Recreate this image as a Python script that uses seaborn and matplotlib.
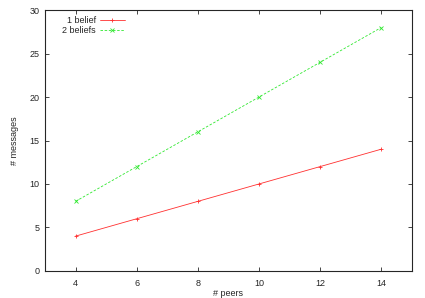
import pandas as pd
import matplotlib
matplotlib.use("Agg")
import matplotlib.pyplot as plt
import seaborn as sns

peers = [4, 6, 8, 10, 12, 14]
one_belief = [4, 6, 8, 10, 12, 14]
two_beliefs = [8, 12, 16, 20, 24, 28]
series_names = ["1 belief", "2 beliefs"]
colors = ["#ff3030", "#30e830"]

df = pd.DataFrame({
    "peers": peers * 2,
    "messages": one_belief + two_beliefs,
    "series": [series_names[0]] * len(peers) + [series_names[1]] * len(peers),
})

sns.set_style("ticks")
plt.rcParams["font.family"] = ["Liberation Sans", "DejaVu Sans"]

fig = plt.figure(figsize=(4.25, 2.98), dpi=100)
ax = fig.add_axes([0.106, 0.091, 0.863, 0.875])

sns.lineplot(
    data=df, x="peers", y="messages", hue="series", style="series",
    palette=dict(zip(series_names, colors)),
    dashes={"1 belief": (None, None), "2 beliefs": (3, 2)},
    markers={"1 belief": "+", "2 beliefs": "x"},
    markersize=3, markeredgewidth=0.6, linewidth=0.6, ax=ax,
)

# seaborn paints marker edges white; make them match the lines
for line in ax.lines:
    line.set_markeredgecolor(line.get_color())

ax.set_xlim(3, 15)
ax.set_ylim(0, 30)
ax.set_xticks(peers)
ax.set_yticks(range(0, 31, 5))
ax.tick_params(direction="in", length=3, width=0.6, labelsize=6.5, top=True, right=True)
ax.tick_params(axis="x", pad=6)
ax.tick_params(axis="y", pad=4)
for s in ax.spines.values():
    s.set_linewidth(0.8)
ax.set_xlabel("# peers", fontsize=6.5)
ax.set_ylabel("# messages", fontsize=6.5)
ax.xaxis.set_label_coords(0.5, -0.07)
ax.yaxis.set_label_coords(-0.07, 0.5)

handles = [l for l in ax.lines if l.get_label() in series_names]
ax.legend(handles=handles, labels=series_names, loc="upper left", frameon=False,
          fontsize=6.5, markerfirst=False, handlelength=2.8, handletextpad=0.4,
          borderaxespad=0.3, labelspacing=0.1, bbox_to_anchor=(0.03, 1.0))
leg = ax.get_legend()
for h, col in zip(leg.get_lines(), colors):
    h.set_color(col)
    h.set_markeredgecolor(col)

fig.savefig("out.png", dpi=100)
